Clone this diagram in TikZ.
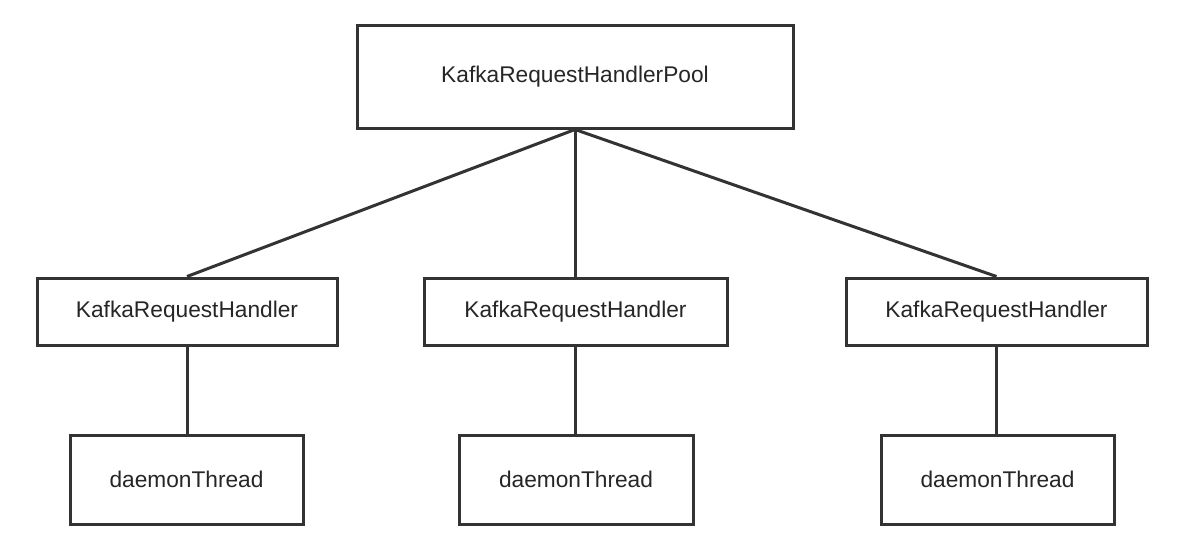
\documentclass[tikz,border=0pt]{standalone}
\usepackage{fontspec}
\setmainfont{Liberation Sans}
\definecolor{ink}{HTML}{333333}
\definecolor{txt}{HTML}{262626}
\begin{document}
\begin{tikzpicture}[x=1pt,y=-1pt,
  box/.style={draw=ink,line width=3pt,fill=white,inner sep=0pt,
    font=\fontsize{22.7}{26}\selectfont,text=txt},
  link/.style={draw=ink,line width=3pt}]
\useasboundingbox (0,0) rectangle (1200,555);
\fill[white] (0,0) rectangle (1200,555);
\node[box,minimum width=436pt,minimum height=103pt] (pool) at (575,76.5) {KafkaRequestHandlerPool};
\node[box,minimum width=300pt,minimum height=67pt] (h1) at (187,311.5) {KafkaRequestHandler};
\node[box,minimum width=303pt,minimum height=67pt] (h2) at (575.5,311.5) {KafkaRequestHandler};
\node[box,minimum width=301pt,minimum height=67pt] (h3) at (996.5,311.5) {KafkaRequestHandler};
\node[box,minimum width=233pt,minimum height=89pt] (d1) at (186.5,479.5) {daemonThread};
\node[box,minimum width=234pt,minimum height=89pt] (d2) at (576,479.5) {daemonThread};
\node[box,minimum width=233pt,minimum height=89pt] (d3) at (997.5,479.5) {daemonThread};
\draw[link] (pool.south) -- (h1.north);
\draw[link] (pool.south) -- (pool.south |- h2.north);
\draw[link] (pool.south) -- (h3.north);
\draw[link] (h1.south) -- (h1.south |- d1.north);
\draw[link] (h2.south) -- (h2.south |- d2.north);
\draw[link] (h3.south) -- (h3.south |- d3.north);
\end{tikzpicture}
\end{document}
